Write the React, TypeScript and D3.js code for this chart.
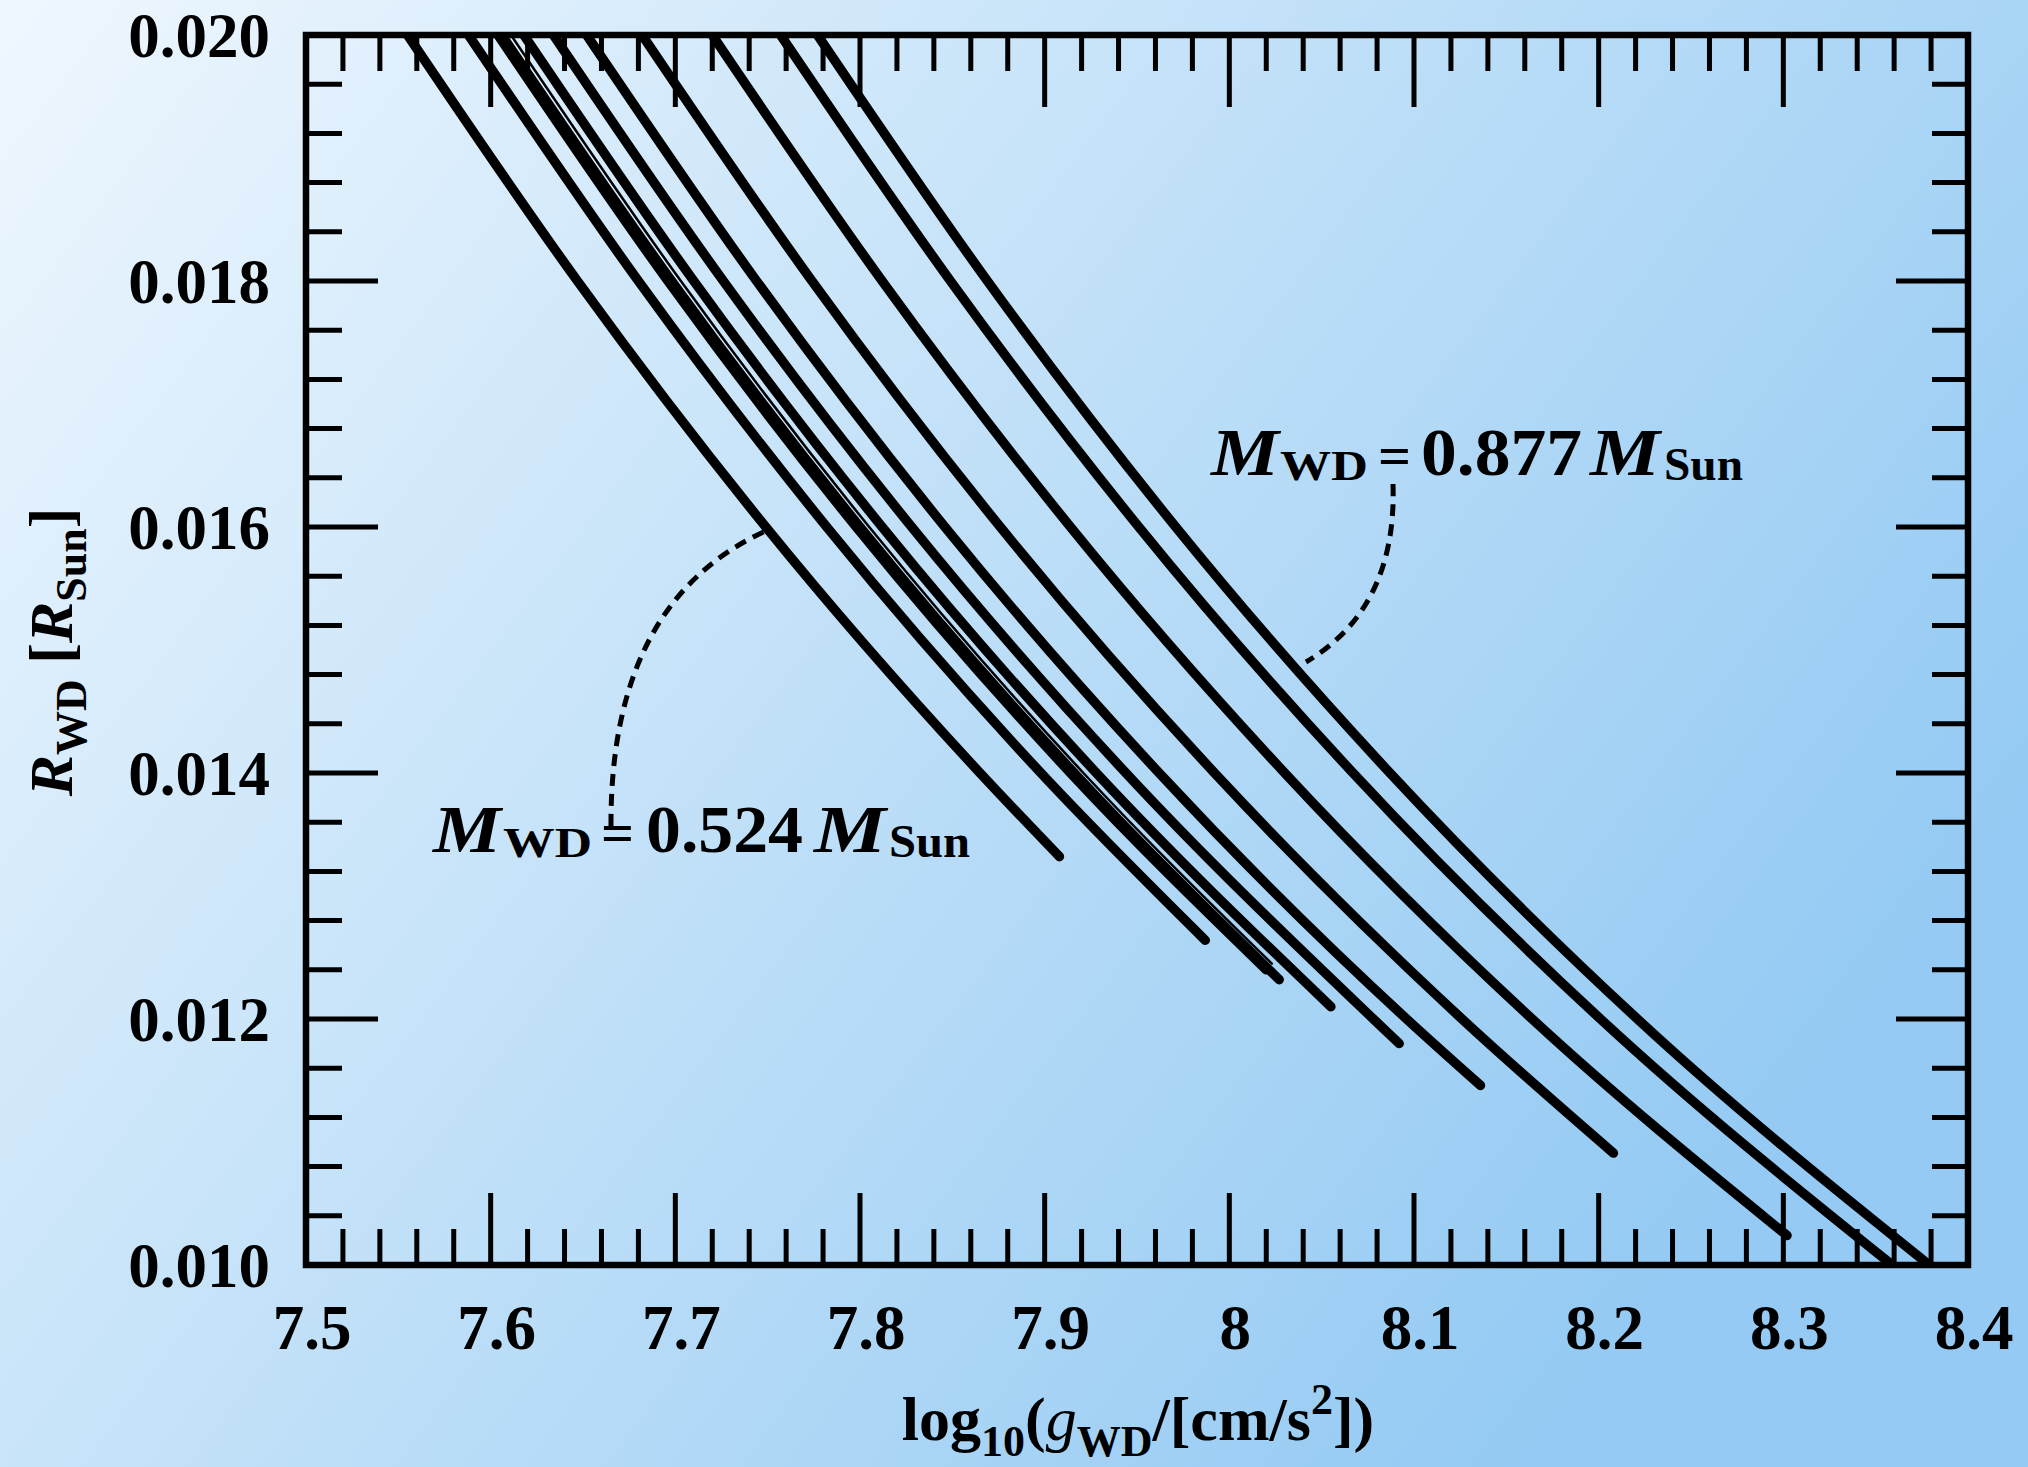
import React from "react";
import * as d3 from "d3";

// ---- tick values / labels ----
const xMajorTicks = [7.5, 7.6, 7.7, 7.8, 7.9, 8.0, 8.1, 8.2, 8.3, 8.4];
const xTickLabels = ["7.5", "7.6", "7.7", "7.8", "7.9", "8", "8.1", "8.2", "8.3", "8.4"];
const yMajorTicks = [0.01, 0.012, 0.014, 0.016, 0.018, 0.02];
const yTickLabels = ["0.010", "0.012", "0.014", "0.016", "0.018", "0.020"];

// ---- cooling tracks: [log10 g, R_WD/R_Sun] ----
const trackM0524: [number, number][] = [[7.555, 0.02], [7.647, 0.018], [7.749, 0.016], [7.865, 0.014], [7.908, 0.01332]];
const trackM0566: [number, number][] = [[7.588, 0.02], [7.68, 0.018], [7.782, 0.016], [7.898, 0.014], [7.987, 0.01264]];
const trackM0588: [number, number][] = [[7.604, 0.02], [7.696, 0.018], [7.798, 0.016], [7.914, 0.014], [8.02, 0.0124]];
const trackM0591: [number, number][] = [[7.606, 0.02], [7.698, 0.018], [7.8, 0.016], [7.916, 0.014], [8.027, 0.01232]];
const trackThin: [number, number][] = [[7.611, 0.02], [7.703, 0.018], [7.805, 0.016], [7.921, 0.014], [8.023, 0.01245]];
const trackM0606: [number, number][] = [[7.618, 0.02], [7.71, 0.018], [7.812, 0.016], [7.928, 0.014], [8.055, 0.0121]];
const trackM0629: [number, number][] = [[7.634, 0.02], [7.726, 0.018], [7.828, 0.016], [7.944, 0.014], [8.078, 0.012], [8.092, 0.0118]];
const trackM0657: [number, number][] = [[7.652, 0.02], [7.744, 0.018], [7.846, 0.016], [7.962, 0.014], [8.096, 0.012], [8.136, 0.01146]];
const trackM0704: [number, number][] = [[7.682, 0.02], [7.774, 0.018], [7.876, 0.016], [7.992, 0.014], [8.126, 0.012], [8.208, 0.01091]];
const trackM0768: [number, number][] = [[7.72, 0.02], [7.812, 0.018], [7.914, 0.016], [8.03, 0.014], [8.164, 0.012], [8.302, 0.01024]];
const trackM0836: [number, number][] = [[7.757, 0.02], [7.849, 0.018], [7.951, 0.016], [8.067, 0.014], [8.201, 0.012], [8.359, 0.01]];
const trackM0877: [number, number][] = [[7.777, 0.02], [7.869, 0.018], [7.971, 0.016], [8.087, 0.014], [8.221, 0.012], [8.379, 0.01]];

const thickTracks = [trackM0524, trackM0566, trackM0588, trackM0591, trackM0606, trackM0629, trackM0657, trackM0704, trackM0768, trackM0836, trackM0877];
const thinTracks = [trackThin];

const W = 2028;
const H = 1467;
const L = 306, R = 1968, T = 35, B = 1265;
const FONT = "'Liberation Serif', 'Times New Roman', serif";

function MassLabel({ x0, base, value, pos }: { x0: number; base: number; value: string; pos: number[] }) {
  // pos: [m1Len, wdX, wdLen, eqX, numX, numLen, mX, m2Len, sunX, sunLen]
  const [m1Len, wdX, wdLen, eqX, numX, numLen, mX, m2Len, sunX, sunLen] = pos;
  return (
    <g fontWeight="bold" fill="#000">
      <text x={x0} y={base} fontSize={67} fontStyle="italic" textLength={m1Len} lengthAdjust="spacingAndGlyphs">M</text>
      <text x={wdX} y={base + 5} fontSize={42} textLength={wdLen} lengthAdjust="spacingAndGlyphs">WD</text>
      <text x={eqX} y={base} fontSize={58}>=</text>
      <text x={numX} y={base} fontSize={68} textLength={numLen} lengthAdjust="spacingAndGlyphs">{value}</text>
      <text x={mX} y={base} fontSize={67} fontStyle="italic" textLength={m2Len} lengthAdjust="spacingAndGlyphs">M</text>
      <text x={sunX} y={base + 5} fontSize={46} textLength={sunLen} lengthAdjust="spacingAndGlyphs">Sun</text>
    </g>
  );
}

export default function App() {
  const x = d3.scaleLinear().domain([7.5, 8.4]).range([L, R]);
  const y = d3.scaleLinear().domain([0.01, 0.02]).range([B, T]);
  const line = d3
    .line<[number, number]>()
    .x((d) => x(d[0]))
    .y((d) => y(d[1]))
    .curve(d3.curveMonotoneX);

  const xMinor = d3.range(0, 46).map((i) => 7.5 + i * 0.02);
  const yMinor = d3.range(0, 26).map((i) => 0.01 + i * 0.0004);
  const isMajorX = (v: number) => Math.abs(v * 10 - Math.round(v * 10)) < 1e-6;
  const isMajorY = (v: number) => Math.abs(v * 500 - Math.round(v * 500)) < 1e-6;
  const MAJ = 72, MIN = 36;

  return (
    <svg
      width={W}
      height={H}
      style={{ position: "absolute", left: 0, top: 0, display: "block" }}
      fontFamily={FONT}
    >
      <defs>
        <linearGradient id="bg" x1="0" y1="0" x2="1" y2="0.55">
          <stop offset="0" stopColor="#eff7fe" />
          <stop offset="0.45" stopColor="#c6e3f9" />
          <stop offset="1" stopColor="#94caf3" />
        </linearGradient>
        <clipPath id="plot">
          <rect x={L} y={T} width={R - L} height={B - T} />
        </clipPath>
      </defs>
      <rect x={0} y={0} width={W} height={H} fill="url(#bg)" />

      {/* tracks */}
      <g clipPath="url(#plot)" fill="none" stroke="#000" strokeLinecap="round" strokeLinejoin="round">
        {thickTracks.map((t, i) => (
          <path key={i} d={line(t) || ""} strokeWidth={9.5} />
        ))}
        {thinTracks.map((t, i) => (
          <path key={"t" + i} d={line(t) || ""} strokeWidth={2.5} />
        ))}
      </g>

      {/* ticks */}
      <g stroke="#000" strokeWidth={5}>
        {xMinor.map((v, i) => {
          const len = isMajorX(v) ? MAJ : MIN;
          return (
            <g key={"x" + i}>
              <line x1={x(v)} x2={x(v)} y1={B} y2={B - len} />
              <line x1={x(v)} x2={x(v)} y1={T} y2={T + len} />
            </g>
          );
        })}
        {yMinor.map((v, i) => {
          const len = isMajorY(v) ? MAJ : MIN;
          return (
            <g key={"y" + i}>
              <line x1={L} x2={L + len} y1={y(v)} y2={y(v)} />
              <line x1={R} x2={R - len} y1={y(v)} y2={y(v)} />
            </g>
          );
        })}
      </g>
      <rect x={L} y={T} width={R - L} height={B - T} fill="none" stroke="#000" strokeWidth={6.5} />

      {/* tick labels */}
      <g fontWeight="bold" fontSize={63} fill="#000">
        {xMajorTicks.map((v, i) => (
          <text key={"xl" + i} x={x(v) + 6} y={1349} textAnchor="middle">
            {xTickLabels[i]}
          </text>
        ))}
        {yMajorTicks.map((v, i) => (
          <text key={"yl" + i} x={270} y={y(v) + 22} textAnchor="end">
            {yTickLabels[i]}
          </text>
        ))}
      </g>

      {/* x axis title */}
      <text x={1138} y={1440} textAnchor="middle" fontWeight="bold" fontSize={62}>
        log
        <tspan fontSize={44} dy={16}>10</tspan>
        <tspan dy={-16}>(</tspan>
        <tspan fontStyle="italic" fontWeight="normal">g</tspan>
        <tspan fontSize={44} dy={16}>WD</tspan>
        <tspan dy={-16}>/[cm/s</tspan>
        <tspan fontSize={44} dy={-26}>2</tspan>
        <tspan dy={26}>])</tspan>
      </text>

      {/* y axis title */}
      <text transform="translate(72,652) rotate(-90)" textAnchor="middle" fontWeight="bold" fontSize={62}>
        <tspan fontStyle="italic">R</tspan>
        <tspan fontSize={44} dy={14}>WD</tspan>
        <tspan dy={-14}> [</tspan>
        <tspan fontStyle="italic">R</tspan>
        <tspan fontSize={44} dy={14}>Sun</tspan>
        <tspan dy={-14}>]</tspan>
      </text>

      {/* annotations */}
      <path d="M611,826 Q610,600 768,530" fill="none" stroke="#000" strokeWidth={5} strokeDasharray="12 8" />
      <path d="M1393,484 Q1397,608 1306,662" fill="none" stroke="#000" strokeWidth={5} strokeDasharray="12 8" />

      <MassLabel x0={433} base={852} value="0.524" pos={[68, 503, 89, 601, 646, 157, 814, 72, 889, 81]} />
      <MassLabel x0={1211} base={475} value="0.877" pos={[68, 1280, 88, 1378, 1421, 161, 1590, 70, 1664, 79]} />
    </svg>
  );
}
